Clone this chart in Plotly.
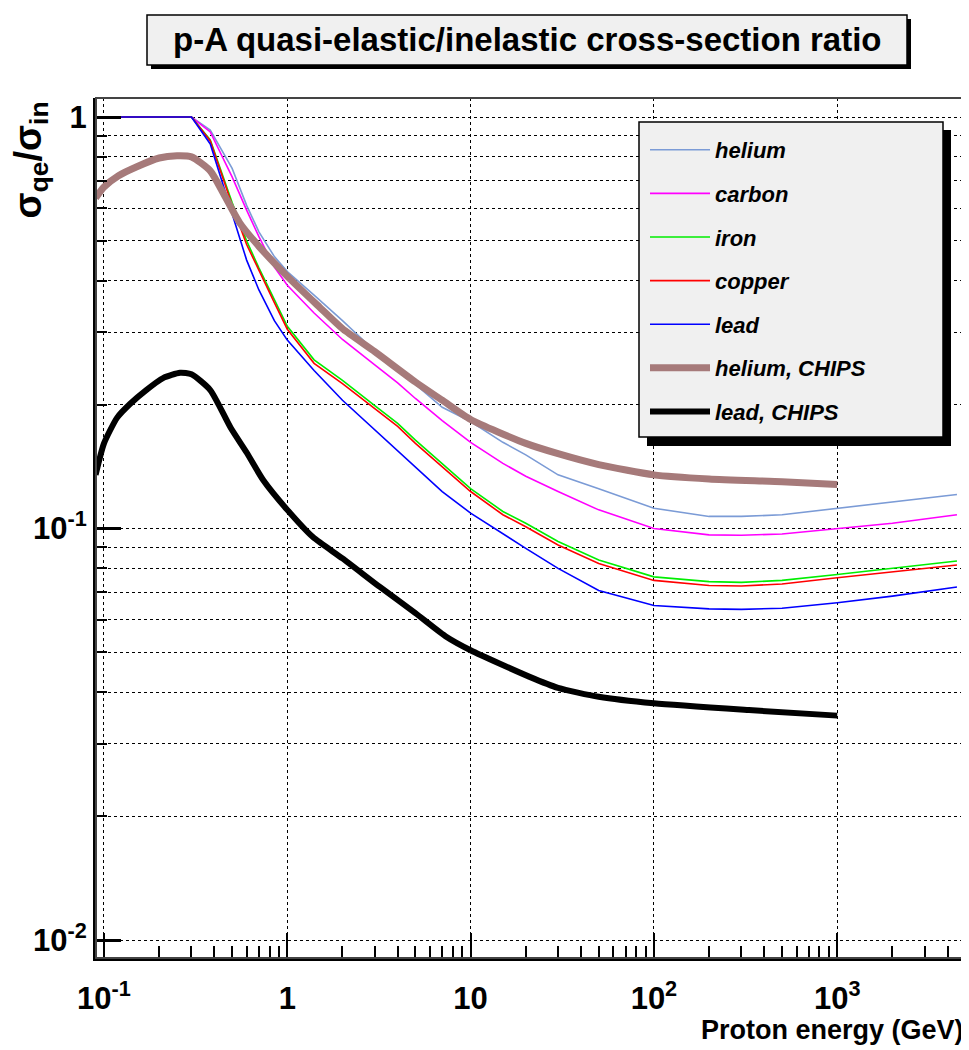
import plotly.graph_objects as go

# ---------------- data ----------------
energy = [0.1, 0.2, 0.3, 0.38, 0.5, 0.6, 0.7, 0.85, 1, 1.4, 2, 3, 4, 5, 7, 10,
          15, 20, 30, 50, 100, 200, 300, 500, 1000, 2000, 4500]

helium = [1, 1, 1, 0.93, 0.75, 0.61, 0.526, 0.458, 0.421, 0.369, 0.32, 0.27, 0.244,
          0.224, 0.197, 0.182, 0.162, 0.151, 0.135, 0.125, 0.112, 0.107, 0.107,
          0.108, 0.112, 0.116, 0.121]
carbon = [1, 1, 1, 0.92, 0.715, 0.594, 0.512, 0.432, 0.39, 0.334, 0.288, 0.25, 0.226,
          0.207, 0.183, 0.162, 0.144, 0.134, 0.123, 0.111, 0.1, 0.0965, 0.0963,
          0.097, 0.1, 0.103, 0.108]
iron = [1, 1, 1, 0.88, 0.62, 0.50, 0.43, 0.36, 0.31, 0.257, 0.229, 0.199, 0.18,
        0.164, 0.144, 0.125, 0.110, 0.103, 0.093, 0.0839, 0.0763, 0.0743, 0.074,
        0.0748, 0.0773, 0.080, 0.0834]
copper = [1, 1, 1, 0.875, 0.61, 0.49, 0.423, 0.354, 0.305, 0.252, 0.225, 0.195, 0.177,
          0.161, 0.141, 0.123, 0.108, 0.101, 0.0912, 0.0822, 0.0748, 0.0727, 0.0725,
          0.0733, 0.0759, 0.0785, 0.0815]
lead = [1, 1, 1, 0.86, 0.58, 0.449, 0.38, 0.32, 0.287, 0.242, 0.205, 0.174, 0.155,
        0.141, 0.123, 0.109, 0.097, 0.0895, 0.080, 0.0707, 0.065, 0.0638, 0.0636,
        0.064, 0.066, 0.0685, 0.0721]

energy_chips_he = [0.09, 0.1, 0.12, 0.15, 0.2, 0.25, 0.3, 0.38, 0.45, 0.55, 0.7, 1,
                   1.5, 2, 3, 5, 7, 10, 20, 30, 50, 100, 200, 500, 1000]
helium_chips = [0.636, 0.676, 0.72, 0.756, 0.795, 0.805, 0.80, 0.74, 0.65, 0.553, 0.485,
                0.41, 0.345, 0.306, 0.269, 0.227, 0.205, 0.184, 0.161, 0.152, 0.143,
                0.135, 0.132, 0.13, 0.128]

energy_chips_pb = [0.09, 0.1, 0.118, 0.139, 0.17, 0.21, 0.26, 0.3, 0.38, 0.49, 0.6,
                   0.74, 1, 1.38, 2, 3.2, 5, 7.4, 10, 21, 30, 50, 100, 330, 1000]
lead_chips = [0.135, 0.161, 0.186, 0.201, 0.217, 0.232, 0.239, 0.237, 0.217, 0.176,
              0.153, 0.131, 0.111, 0.0953, 0.0846, 0.0721, 0.0623, 0.0545, 0.0506,
              0.0436, 0.041, 0.039, 0.0376, 0.0362, 0.0351]

x_tickvals = [0.1, 1, 10, 100, 1000]
x_ticktext = ["10<sup>-1</sup>", "1", "10", "10<sup>2</sup>", "10<sup>3</sup>"]
y_tickvals = [0.01, 0.1, 1]
y_ticktext = ["10<sup>-2</sup>", "10<sup>-1</sup>", "1"]

series = [
    ("helium", energy, helium, "#7b9bd6", 1.6),
    ("carbon", energy, carbon, "#ff00ff", 1.6),
    ("iron", energy, iron, "#00ee00", 1.6),
    ("copper", energy, copper, "#ff0000", 1.6),
    ("lead", energy, lead, "#0000ff", 1.6),
    ("helium, CHIPS", energy_chips_he, helium_chips, "#a67a7a", 7),
    ("lead, CHIPS", energy_chips_pb, lead_chips, "#000000", 6),
]

FONT = "Liberation Sans Narrow, Arial Narrow, Liberation Sans, Arial, sans-serif"

# The page body has an 8 px margin, so the figure is drawn 8 px smaller and
# all reference pixel positions below are given in window coordinates.
OFF = 8
WIN_W, WIN_H = 969, 1050
W, H = WIN_W - OFF, WIN_H - OFF
FL, FR, FT, FB = 96, 966, 98, 958          # frame in window pixels
L, R, T, B = FL - OFF, WIN_W - FR, FT - OFF, WIN_H - FB
PW, PH = FR - FL, FB - FT


def px(x):
    return (x - FL) / PW


def py(y):
    return (FB - y) / PH


fig = go.Figure()
for i, (name, xs, ys, color, width) in enumerate(series):
    fig.add_trace(go.Scatter(
        x=xs, y=ys, mode="lines", name=name, legendgroup=f"g{i}",
        line=dict(color=color, width=width,
                  shape="spline" if width > 3 else "linear", smoothing=0.6),
        hoverinfo="skip",
    ))

minor_x = [m * 10 ** e for e in range(-2, 4) for m in range(2, 10)]
minor_y = [m * 10 ** e for e in range(-3, 1) for m in range(2, 10)]

fig.update_xaxes(
    type="log", range=[-1.0436, 3.7026],
    tickmode="array", tickvals=x_tickvals, ticktext=x_ticktext,
    ticks="inside", ticklen=25, tickwidth=2, tickcolor="black",
    showgrid=True, gridcolor="black", griddash="dot", gridwidth=1,
    showline=True, linecolor="black", linewidth=3,
    tickfont=dict(family=FONT, size=31, color="black", weight="bold"),
    ticklabelstandoff=11,
    minor=dict(tickmode="array", tickvals=minor_x, ticks="inside", ticklen=12,
               tickwidth=1.5, tickcolor="black", showgrid=False),
    zeroline=False,
)
fig.update_yaxes(
    type="log", range=[-2.0437, 0.0462],
    tickmode="array", tickvals=y_tickvals, ticktext=y_ticktext,
    ticks="inside", ticklen=25, tickwidth=3, tickcolor="black",
    showgrid=True, gridcolor="black", griddash="dot", gridwidth=1,
    showline=True, linecolor="black", linewidth=3,
    tickfont=dict(family=FONT, size=31, color="black", weight="bold"),
    ticklabelstandoff=0,
    minor=dict(tickmode="array", tickvals=minor_y, ticks="inside", ticklen=11,
               tickwidth=2, tickcolor="black", showgrid=True, gridcolor="black",
               griddash="dot", gridwidth=1),
    zeroline=False,
)

shapes = [
    # frame (top/right)
    dict(type="rect", xref="paper", yref="paper", x0=0, x1=1, y0=0, y1=1,
         line=dict(color="#444", width=2), layer="above"),
    # legend shadow + box
    dict(type="rect", xref="paper", yref="paper", x0=px(647), x1=px(951),
         y0=py(446), y1=py(130), fillcolor="black", line=dict(width=0), layer="above"),
    dict(type="rect", xref="paper", yref="paper", x0=px(639), x1=px(943),
         y0=py(437), y1=py(122), fillcolor="#f0f0f0",
         line=dict(color="black", width=1.5), layer="above"),
    # title shadow + box
    dict(type="rect", xref="paper", yref="paper", x0=px(151), x1=px(911),
         y0=py(69), y1=py(19), fillcolor="black", line=dict(width=0), layer="above"),
    dict(type="rect", xref="paper", yref="paper", x0=px(147), x1=px(907),
         y0=py(65), y1=py(15), fillcolor="#f0f0f0",
         line=dict(color="black", width=1.5), layer="above"),
]

annotations = [
    dict(text="p-A quasi-elastic/inelastic cross-section ratio", xref="paper",
         yref="paper", x=px(527), y=py(40), xanchor="center", yanchor="middle",
         showarrow=False,
         font=dict(family=FONT, size=33, color="black", weight="bold")),
    dict(text="σ<sub>qe</sub>/σ<sub>in</sub>", xref="paper", yref="paper",
         x=px(30), y=py(100), xanchor="center", yanchor="top", textangle=-90,
         showarrow=False,
         font=dict(family=FONT, size=38, color="black", weight="bold")),
    dict(text="Proton energy (GeV)", xref="paper", yref="paper",
         x=px(966), y=py(1030), xanchor="right", yanchor="middle",
         showarrow=False,
         font=dict(family=FONT, size=27, color="black", weight="bold")),
]

fig.update_layout(
    width=W, height=H,
    margin=dict(l=L, r=R, t=T, b=B, autoexpand=False),
    paper_bgcolor="white", plot_bgcolor="white",
    shapes=shapes, annotations=annotations,
    showlegend=True,
    legend=dict(x=px(645), y=py(129), xanchor="left", yanchor="top",
                bgcolor="rgba(0,0,0,0)", borderwidth=0,
                font=dict(family=FONT, size=22, color="black", weight="bold",
                          style="italic"),
                tracegroupgap=12, itemwidth=60, traceorder="grouped"),
    hovermode=False,
)

fig.write_html("out.html")
